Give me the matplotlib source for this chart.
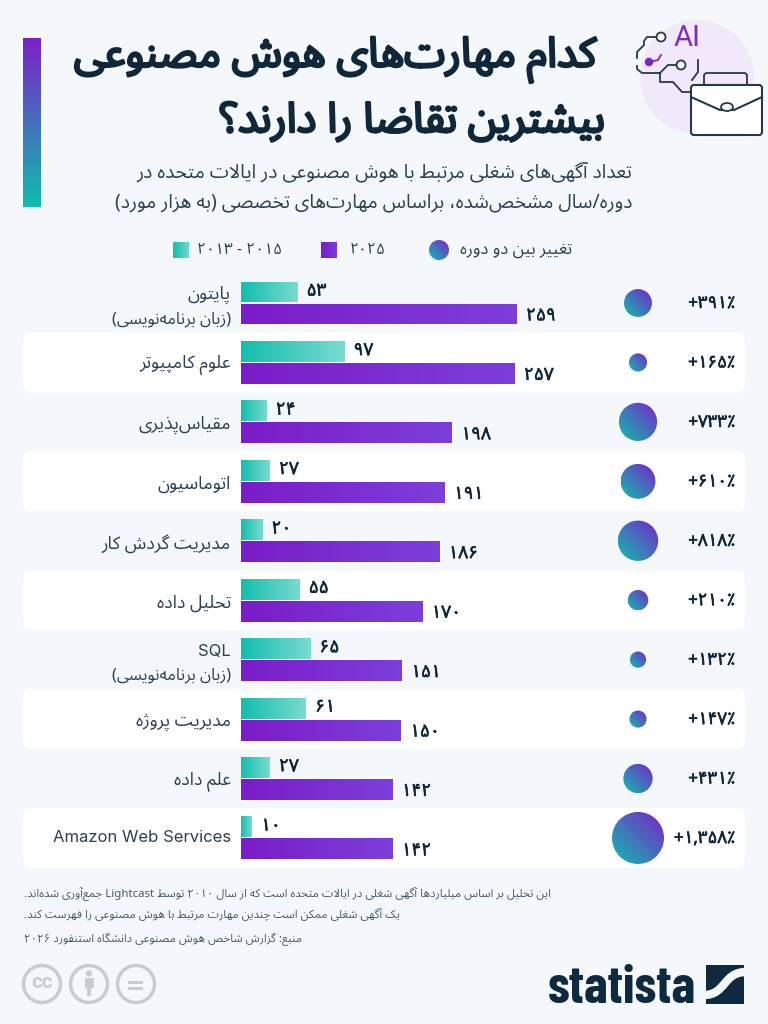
import re
import numpy as np
import matplotlib
matplotlib.use("Agg")
import matplotlib.pyplot as plt
import matplotlib.patheffects as pe
from matplotlib.colors import LinearSegmentedColormap
from matplotlib.path import Path
from matplotlib.patches import Circle, FancyBboxPatch, PathPatch, Rectangle, Ellipse

labels = [["پایتون", "(زبان برنامه‌نویسی)"], ["علوم کامپیوتر"], ["مقیاس‌پذیری"], ["اتوماسیون"],
          ["مدیریت گردش کار"], ["تحلیل داده"], ["SQL", "(زبان برنامه‌نویسی)"], ["مدیریت پروژه"],
          ["علم داده"], ["Amazon Web Services"]]
early = [53, 97, 24, 27, 20, 55, 65, 61, 27, 10]
late = [259, 257, 198, 191, 186, 170, 151, 150, 142, 142]
change = [391, 165, 733, 610, 818, 210, 132, 147, 431, 1358]

title = ["کدام مهارت‌های هوش مصنوعی", "بیشترین تقاضا را دارند؟"]
subtitle = ["تعداد آگهی‌های شغلی مرتبط با هوش مصنوعی در ایالات متحده در",
            "دوره/سال مشخص‌شده، براساس مهارت‌های تخصصی (به هزار مورد)"]
notes = ["این تحلیل بر اساس میلیاردها آگهی شغلی در ایالات متحده است که از سال ۲۰۱۰ توسط Lightcast جمع‌آوری شده‌اند.",
         "یک آگهی شغلی ممکن است چندین مهارت مرتبط با هوش مصنوعی را فهرست کند.",
         "منبع: گزارش شاخص هوش مصنوعی دانشگاه استنفورد ۲۰۲۶"]

INK = "#10273a"
TEXT = "#2b4052"
BG = "#f4f8fb"
plt.rcParams["font.family"] = ["Noto Sans Arabic", "Noto Sans", "DejaVu Sans"]

# presentation forms: isolated, final, initial, medial
FORMS = {}
for ch, start in zip("ءآأؤإئابةتثجحخدذرزسشصضطظعغفقلمنهو",
                     [0xFE80, 0xFE81, 0xFE83, 0xFE85, 0xFE87, 0xFE89, 0xFE8D, 0xFE8F, 0xFE93, 0xFE95,
                      0xFE99, 0xFE9D, 0xFEA1, 0xFEA5, 0xFEA9, 0xFEAB, 0xFEAD, 0xFEAF, 0xFEB1, 0xFEB5,
                      0xFEB9, 0xFEBD, 0xFEC1, 0xFEC5, 0xFEC9, 0xFECD, 0xFED1, 0xFED5, 0xFEDD, 0xFEE1,
                      0xFEE5, 0xFEE9, 0xFEED]):
    n = 1 if ch == "ء" else 2 if ch in "آأؤإادذرزةو" else 4
    FORMS[ch] = [chr(start + i) for i in range(n)]
for ch, start in zip("پچژکگی", [0xFB56, 0xFB7A, 0xFB8A, 0xFB8E, 0xFB92, 0xFBFC]):
    FORMS[ch] = [chr(start + i) for i in range(2 if ch == "ژ" else 4)]


def shape(s):
    out = []
    i = 0
    prev = False  # does the previous letter connect forward
    while i < len(s):
        ch = s[i]
        nxt = s[i + 1] if i + 1 < len(s) else ""
        if ch == "ل" and nxt in ("ا", "آ") and nxt:
            base = 0xFEFB if nxt == "ا" else 0xFEF5
            out.append(chr(base + (1 if prev else 0)))
            prev = False
            i += 2
            continue
        if ch not in FORMS:
            if ch != "\u200c":
                out.append(ch)
            prev = False
            i += 1
            continue
        forms = FORMS[ch]
        next_joins = nxt in FORMS and len(forms) == 4
        if prev and next_joins:
            out.append(forms[3])
        elif prev and len(forms) > 1:
            out.append(forms[1])
        elif next_joins:
            out.append(forms[2])
        else:
            out.append(forms[0])
        prev = next_joins
        i += 1
    return "".join(out)


def rtl(s):
    # lay out right-to-left, Latin words and numbers keep their own order
    runs = re.findall(r"[A-Za-z0-9۰-۹]+|[^A-Za-z0-9۰-۹]+", s)
    res = []
    for run in reversed(runs):
        if re.match(r"[A-Za-z0-9۰-۹]", run):
            res.append(run)
        else:
            res.append(shape(run)[::-1].translate(str.maketrans("()", ")(")))
    return "".join(res)


def fa(n):
    return f"{n:,}".translate(str.maketrans("0123456789", "۰۱۲۳۴۵۶۷۸۹"))


def heavy(width, color=INK):
    # the Arabic face only comes in one weight, thicken it with a stroke
    return [pe.withStroke(linewidth=width, foreground=color)]


def gradient(ax, extent, colors, clip, vertical=False, diagonal=False, zorder=3):
    cmap = LinearSegmentedColormap.from_list("g", colors)
    xx, yy = np.meshgrid(np.linspace(0, 1, 64), np.linspace(0, 1, 64))
    if diagonal:
        grid = (xx + yy) / 2
    elif vertical:
        grid = yy
    else:
        grid = xx
    im = ax.imshow(grid, extent=extent, origin="lower", aspect="auto", cmap=cmap,
                   vmin=0, vmax=1, zorder=zorder)
    im.set_clip_path(clip)


fig = plt.figure(figsize=(7.68, 10.24), dpi=100, facecolor=BG)

# whole page in pixel units for the decoration
page = fig.add_axes([0, 0, 1, 1])
page.set_axis_off()

row0, step = 303.0, 59.44

# alternate rows sit on white cards
for i in range(1, 10, 2):
    c = row0 + i * step
    page.add_patch(FancyBboxPatch((23, c - 30), 722, 60, boxstyle="round,pad=0,rounding_size=9",
                                  fc="white", ec="none", zorder=1))

# side bar next to the title
side = Rectangle((23, 38), 18, 169, fc="none", ec="none")
page.add_patch(side)
gradient(page, [23, 41, 207, 38], ["#10bcae", "#7b22c9"], side, vertical=True)

for line, y, xr in zip(title, [60, 121], [596, 605]):
    page.text(xr, y, rtl(line), ha="right", va="center", fontsize=30,
              color=INK, path_effects=heavy(1.8))
for line, y in zip(subtitle, [172, 202]):
    page.text(632, y, rtl(line), ha="right", va="center", fontsize=13.85, color=TEXT)

# legend
sw = Rectangle((173, 242), 16, 16, fc="none", ec="none")
page.add_patch(sw)
gradient(page, [173, 189, 258, 242], ["#16bdae", "#6fd8cc"], sw)
page.text(197, 250, "۲۰۱۳ - ۲۰۱۵", ha="left", va="center", fontsize=11.3, color=TEXT)
sw = Rectangle((321, 242), 16, 16, fc="none", ec="none")
page.add_patch(sw)
gradient(page, [321, 337, 258, 242], ["#7a1fc9", "#7c3ad6"], sw)
page.text(350, 250, "۲۰۲۵", ha="left", va="center", fontsize=11.3, color=TEXT)
dot = Circle((439, 250), 10, fc="none", ec="none")
page.add_patch(dot)
gradient(page, [429, 449, 260, 240], ["#10bcae", "#7b22c9"], dot, diagonal=True)
page.text(572, 250, rtl("تغییر بین دو دوره"), ha="right", va="center", fontsize=12, color=TEXT)

# bubbles scale by area with the percentage change
for i, p in enumerate(change):
    c = row0 + i * step
    r = 26 * np.sqrt(p / max(change))
    circ = Circle((638, c), r, fc="none", ec="none")
    page.add_patch(circ)
    gradient(page, [638 - r, 638 + r, c + r, c - r], ["#10bcae", "#7b22c9"], circ, diagonal=True)
    page.text(735, c + 1, "+" + fa(p) + "٪", ha="right", va="center", fontsize=12.2,
              color=INK, path_effects=heavy(0.5))

# category names
for i, parts in enumerate(labels):
    c = row0 + i * step
    ys = [c - 8, c + 16] if len(parts) == 2 else [c if parts[0].isascii() else c + 2.5]
    for part, y in zip(parts, ys):
        latin = part.isascii()
        size = 12 if latin else 11.7 if part.startswith("(") else 12.8
        page.text(231, y, part if latin else rtl(part), ha="right", va="center",
                  fontsize=size, color=TEXT, family=["Inter"] if latin else None)

# footnotes
for line, y in zip(notes, [894, 915, 939]):
    page.text(24, y, rtl(line), ha="left", va="center", fontsize=8.25, color="#4a5c6b")

# licence badges
GREY = "#c6ccd1"
for x in (42, 89, 136):
    page.add_patch(Circle((x, 984), 18.5, fc="none", ec=GREY, lw=2.5))
page.text(42, 983, "cc", ha="center", va="center", fontsize=15, fontweight="bold", color=GREY,
          family=["Roboto"])
page.add_patch(Circle((89, 973.5), 3.2, fc=GREY, ec="none"))
page.add_patch(Rectangle((84.5, 978), 9, 10, fc=GREY, ec="none"))
page.add_patch(Rectangle((87, 988), 4, 8, fc=GREY, ec="none"))
page.add_patch(Rectangle((128, 980.5), 15, 3.5, fc=GREY, ec="none"))
page.add_patch(Rectangle((128, 986.5), 15, 3.5, fc=GREY, ec="none"))

# statista wordmark
page.text(696, 1003, "statista", ha="right", va="baseline", fontsize=38, fontweight="bold", color="#0f2a3f",
          family=["Barlow Condensed", "Roboto Condensed", "Roboto"])
logo = Rectangle((706, 965), 37.5, 38.5, fc="#0f2a3f", ec="none")
page.add_patch(logo)
band = PathPatch(Path([(704, 995), (726, 995), (723, 972), (746, 972)],
                      [Path.MOVETO, Path.CURVE4, Path.CURVE4, Path.CURVE4]),
                 fc="none", ec=BG, lw=6)
page.add_patch(band)
band.set_clip_path(logo)

# skills / briefcase icon
LINE = "#26394a"
page.add_patch(Circle((697, 77), 57, fc="#f1e8fa", ec="none"))
page.text(687, 38.5, "AI", ha="center", va="center", fontsize=21, color="#7b2cc9", family=["Roboto"])
page.plot([656, 647, 644, 644, 637, 637], [37, 37, 41, 45, 52, 58], color=LINE, lw=1.3)
page.plot([637, 637, 642, 660, 668, 676], [66, 69, 73, 73, 65, 65], color=LINE, lw=1.3)
page.plot([660, 660, 673, 682, 690], [73, 82, 82, 92, 92], color=LINE, lw=1.3)
page.plot([698, 698, 692], [60, 72, 80], color=LINE, lw=1.3)
page.add_patch(Circle((661, 37), 4.5, fc="white", ec=LINE, lw=1.3, zorder=3))
page.add_patch(Circle((681, 65), 4.5, fc="white", ec=LINE, lw=1.3, zorder=3))
page.plot([649, 658, 661], [62, 60, 55], color="#7b22c9", lw=1.3)
page.add_patch(Circle((649, 62), 4.2, fc="#7b22c9", ec="none", zorder=3))
page.add_patch(FancyBboxPatch((704, 73), 43, 14, boxstyle="round,pad=0,rounding_size=3", fc="none", ec=LINE, lw=1.3))
page.add_patch(FancyBboxPatch((691, 85), 71, 50, boxstyle="round,pad=0,rounding_size=3", fc="white", ec=LINE, lw=1.5, zorder=3))
page.plot([691, 720, 734, 762], [97, 110, 110, 97], color=LINE, lw=1.5, zorder=4)
page.add_patch(Ellipse((727, 107), 12, 8, fc="white", ec=LINE, lw=1.3, zorder=5))

page.set_xlim(0, 768)
page.set_ylim(1024, 0)

# bar chart on its own axes, scaled in thousands of postings
x_scale = 1.065
left, right = 240.5, 600.0
top, bottom = row0 - step / 2, row0 + 9.5 * step
ax = fig.add_axes([left / 768, 1 - bottom / 1024, (right - left) / 768, (bottom - top) / 1024])
ax.patch.set_alpha(0)
ax.set_axis_off()
y = np.arange(len(late))
bar_h = 0.353
offset = 0.185
for vals, off, colors in [(early, -offset, ["#14bdad", "#78dbcf"]), (late, offset, ["#7a1cc8", "#7c3fda"])]:
    bars = ax.barh(y + off, vals, height=bar_h, fc="none", ec="none")
    for bar, v in zip(bars, vals):
        gradient(ax, [0, v, bar.get_y() + bar_h, bar.get_y()], colors, bar)
        ax.annotate(fa(v), (v, bar.get_y() + bar_h / 2), xytext=(7, 1 if off < 0 else -1),
                    textcoords="offset points", ha="left", va="center", fontsize=12.5,
                    color=INK, path_effects=heavy(0.5))
ax.set_xlim(0, (right - left) / x_scale)
ax.set_ylim(9.5, -0.5)

fig.savefig("out.png", dpi=100, facecolor=BG)
